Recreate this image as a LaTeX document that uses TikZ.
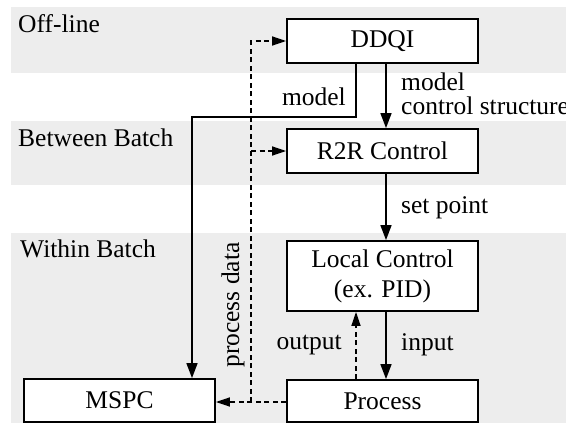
\documentclass[tikz,border=0pt]{standalone}
\usepackage{fontspec}
\setmainfont{Liberation Serif}
\usetikzlibrary{arrows.meta}
\definecolor{bandgray}{RGB}{237,237,237}
\begin{document}
\begin{tikzpicture}[x=1pt,y=-1pt,
  every node/.style={font=\fontsize{25.5}{30}\selectfont, inner sep=0pt},
  band/.style={fill=bandgray, draw=none},
  block/.style={draw, line width=1.8pt, fill=white, minimum width=191pt, minimum height=44pt},
  flow/.style={line width=1.6pt, -{Triangle[length=15pt,width=11pt]}},
  dflow/.style={line width=1.6pt, dash pattern=on 5pt off 3.5pt, -{Triangle[length=14pt,width=9pt]}}]

\useasboundingbox (0,0) rectangle (566,423);

% level bands
\fill[band] (11,7) rectangle (566,73);
\fill[band] (11,121) rectangle (566,185);
\fill[band] (11,233) rectangle (566,423);

\node[anchor=base west] (offl) at (18,32) {Off-line};
\node[anchor=base west] (betw) at (18,146) {Between Batch};
\node[anchor=base west] (with) at (20,257) {Within Batch};

% blocks
\node[block] (ddqi) at (382.5,41) {DDQI};
\node[block] (r2r) at (382.5,151) {R2R Control};
\node[block, minimum height=70pt, align=center] (local) at (382.5,276) {Local Control\\(ex. PID)};
\node[block, minimum height=42pt] (proc) at (382.5,401) {Process};
\node[block, minimum height=43pt] (mspc) at (119.5,400.5) {MSPC};

% helper positions for the vertical runs
\coordinate (xa) at (386,0);
\coordinate (xb) at (356,0);
\coordinate (xd) at (251,0);
\coordinate (xm) at (192,0);
\coordinate (ym) at (0,117);
\coordinate (yd) at (0,402);

% control chain
\draw[flow] (ddqi.south -| xa) -- (r2r.north -| xa);
\draw[flow] (r2r.south -| xa) -- (local.north -| xa);
\draw[flow] (local.south -| xa) -- (proc.north -| xa);
\draw[dflow] (proc.north -| xb) -- (local.south -| xb);

% model to MSPC
\draw[flow] (ddqi.south -| xb) |- (ym -| xm) -- (mspc.north -| xm);

% process data
\draw[dflow] (proc.west |- yd) -- (mspc.east |- yd);
\draw[dflow] (xd |- yd) |- (ddqi.west);
\draw[dflow] (xd |- r2r.west) -- (r2r.west);

% labels
\node[anchor=east] (lmodel) at (346,97) {model};
\node[anchor=west] (rmodel) at (401,82) {model};
\node[anchor=west] (ctrl) at (401,106) {control structure};
\node[anchor=west] (setp) at (401,208) {set point};
\node[anchor=west] (inp) at (401,345) {input};
\node[anchor=east] (outp) at (342,345) {output};
\node[rotate=90] (pdata) at (233,305) {process data};
\end{tikzpicture}
\end{document}
